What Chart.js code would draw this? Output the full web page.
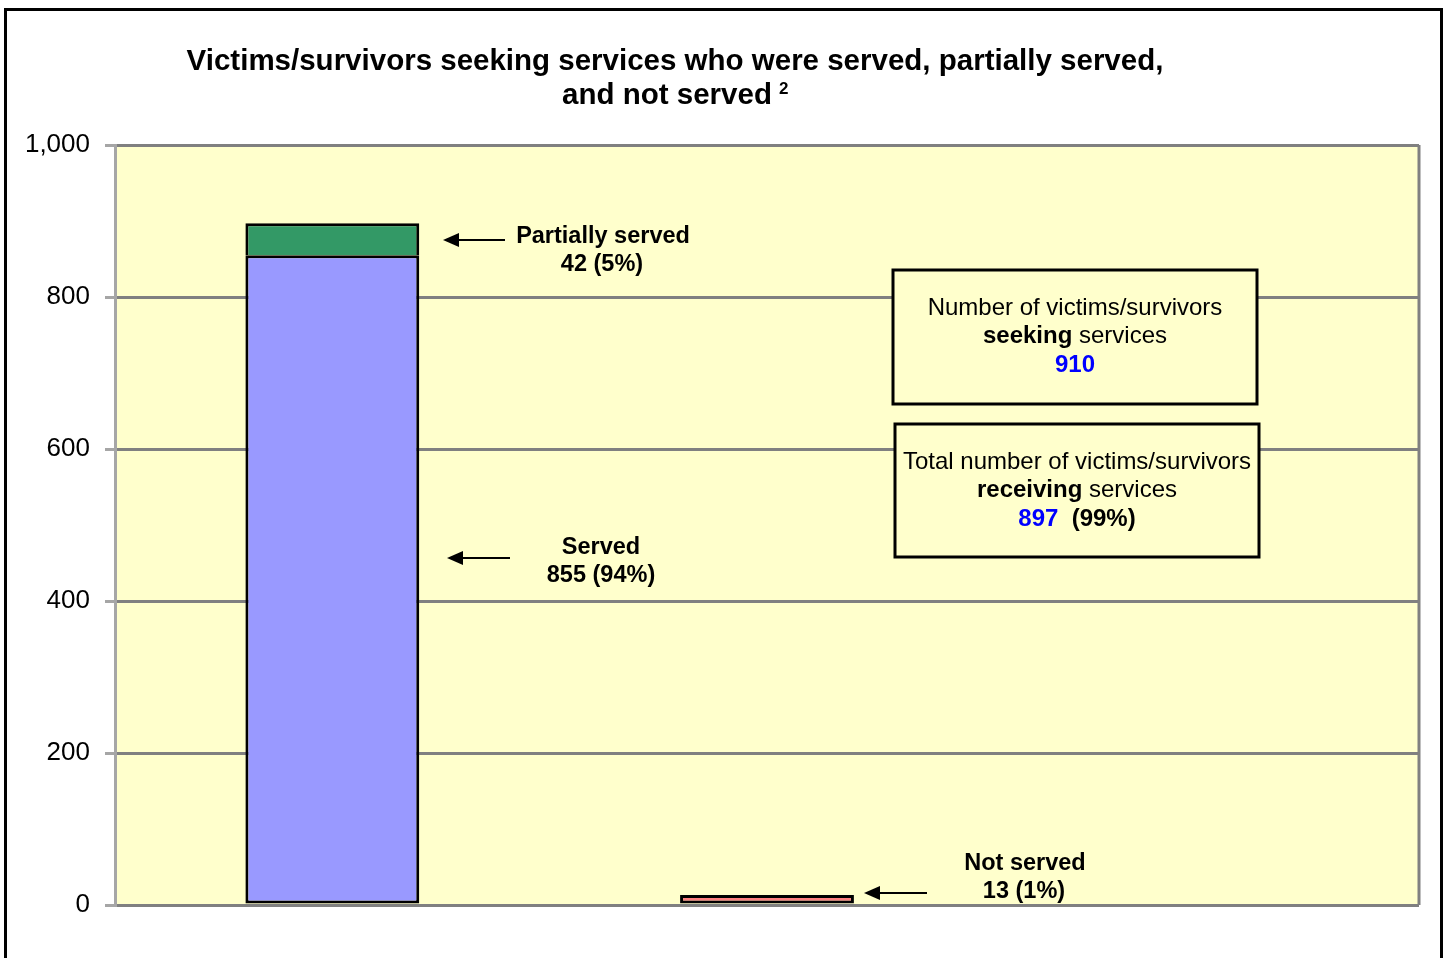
<!DOCTYPE html>
<html lang="en"><head><meta charset="utf-8"><title>Victims/survivors served</title>
<script src="https://cdn.jsdelivr.net/npm/chart.js@4/dist/chart.umd.min.js"></script>
<style>
  html, body { margin: 0; background: #fff; }
  #wrap { width: 1447px; height: 958px; }
</style></head>
<body>
<div id="wrap"><canvas id="c" width="1447" height="958"></canvas></div>
<script>
// Three category slots; only the first two carry a bar, the third is empty
// space the original chart left on the right for the text boxes.
const CATEGORIES = ['Served / partially served', 'Not served', ''];
const SERVED     = [855, null, null];
const PARTIALLY  = [42, null, null];
const NOT_SERVED = [null, 13, null];
const Y_TICKS    = [0, 200, 400, 600, 800, 1000];
const SEEKING    = 910;
const RECEIVING  = SERVED[0] + PARTIALLY[0];

const FONT = '"Liberation Sans", Arial, Helvetica, sans-serif';
const PLOT_BG = '#FFFFCC', FRAME = '#808080', AXIS = '#A6A6A6';
const pct = v => Math.round(v / SEEKING * 100) + '%';

// Draw a line made of runs ({text, bold, color}) centred on cx.
function runs(ctx, parts, cx, cy, size) {
  const font = p => `${p.bold ? 'bold ' : ''}${size}px ${FONT}`;
  let w = 0;
  for (const p of parts) { ctx.font = font(p); w += ctx.measureText(p.text).width; }
  let x = cx - w / 2;
  ctx.textAlign = 'left'; ctx.textBaseline = 'middle';
  for (const p of parts) {
    ctx.font = font(p); ctx.fillStyle = p.color || '#000';
    ctx.fillText(p.text, x, cy);
    x += ctx.measureText(p.text).width;
  }
}

function arrow(ctx, xHead, xTail, y) {
  ctx.save();
  ctx.strokeStyle = '#000'; ctx.fillStyle = '#000'; ctx.lineWidth = 2;
  ctx.beginPath(); ctx.moveTo(xTail, y); ctx.lineTo(xHead + 12, y); ctx.stroke();
  ctx.beginPath(); ctx.moveTo(xHead, y); ctx.lineTo(xHead + 16, y - 7); ctx.lineTo(xHead + 16, y + 7); ctx.closePath(); ctx.fill();
  ctx.restore();
}

function box(ctx, x, y, w, h, lines, size) {
  ctx.save();
  ctx.fillStyle = PLOT_BG; ctx.fillRect(x, y, w, h);
  ctx.strokeStyle = '#000'; ctx.lineWidth = 3; ctx.strokeRect(x, y, w, h);
  lines.forEach((l, i) => runs(ctx, l, x + w / 2, y + 38 + i * 28.5, size));
  ctx.restore();
}

const decor = {
  id: 'decor',
  beforeDraw(chart) {
    const { ctx, chartArea: a } = chart;
    ctx.save();
    ctx.fillStyle = '#fff'; ctx.fillRect(0, 0, chart.width, chart.height);
    ctx.fillStyle = PLOT_BG; ctx.fillRect(a.left, a.top, a.right - a.left, a.bottom - a.top);
    // outer frame: left, top, right (bottom runs off the page)
    ctx.strokeStyle = '#000'; ctx.lineWidth = 3;
    ctx.beginPath(); ctx.moveTo(5.5, 960); ctx.lineTo(5.5, 9.5); ctx.lineTo(1441.5, 9.5); ctx.lineTo(1441.5, 960); ctx.stroke();
    ctx.restore();
  },
  beforeDatasetsDraw(chart) {
    const { ctx, chartArea: a } = chart;
    ctx.save();
    ctx.strokeStyle = FRAME; ctx.lineWidth = 3;
    ctx.beginPath(); ctx.moveTo(a.right, a.top); ctx.lineTo(a.right, a.bottom); ctx.stroke();
    ctx.restore();
  },
  afterDraw(chart) {
    const { ctx } = chart;
    ctx.save();
    // title
    ctx.fillStyle = '#000'; ctx.textAlign = 'center'; ctx.textBaseline = 'alphabetic';
    ctx.font = `bold 29.5px ${FONT}`;
    ctx.fillText('Victims/survivors seeking services who were served, partially served,', 675, 70);
    const l2 = 'and not served';
    const w2 = ctx.measureText(l2).width;
    ctx.fillText(l2, 667, 104);
    ctx.font = `bold 17px ${FONT}`; ctx.textAlign = 'left';
    ctx.fillText('2', 667 + w2 / 2 + 7, 94);

    // callouts
    const ann = 23.5;
    arrow(ctx, 443, 505, 240);
    runs(ctx, [{ text: 'Partially served', bold: true }], 603, 237, ann);
    runs(ctx, [{ text: `${PARTIALLY[0]} (${pct(PARTIALLY[0])})`, bold: true }], 602, 265, ann);
    arrow(ctx, 447, 510, 558);
    runs(ctx, [{ text: 'Served', bold: true }], 601, 548, ann);
    runs(ctx, [{ text: `${SERVED[0]} (${pct(SERVED[0])})`, bold: true }], 601, 576, ann);
    arrow(ctx, 864, 927, 893);
    runs(ctx, [{ text: 'Not served', bold: true }], 1025, 864, ann);
    runs(ctx, [{ text: `${NOT_SERVED[1]} (${pct(NOT_SERVED[1])})`, bold: true }], 1024, 892, ann);

    box(ctx, 893, 270, 364, 134, [
      [{ text: 'Number of victims/survivors' }],
      [{ text: 'seeking', bold: true }, { text: ' services' }],
      [{ text: String(SEEKING), bold: true, color: '#0000FF' }],
    ], 24);
    box(ctx, 895, 424, 364, 133, [
      [{ text: 'Total number of victims/survivors' }],
      [{ text: 'receiving', bold: true }, { text: ' services' }],
      [{ text: String(RECEIVING), bold: true, color: '#0000FF' }, { text: '  (' + pct(RECEIVING) + ')', bold: true }],
    ], 24);
    ctx.restore();
  },
};

const barStyle = { borderColor: '#000', borderWidth: 3, borderSkipped: false, barPercentage: 0.4, categoryPercentage: 1 };

new Chart(document.getElementById('c'), {
  type: 'bar',
  data: {
    labels: CATEGORIES,
    datasets: [
      { label: 'Served', data: SERVED, backgroundColor: '#9999FF', ...barStyle },
      // the served segment's top edge already draws the seam between the two
      { label: 'Partially served', data: PARTIALLY, backgroundColor: '#339966', ...barStyle, borderSkipped: 'bottom' },
      { label: 'Not served', data: NOT_SERVED, backgroundColor: '#FF8080', ...barStyle },
    ],
  },
  options: {
    responsive: false, animation: false, devicePixelRatio: 1,
    layout: { padding: { left: 0, top: 145, right: 28, bottom: 53 } },
    plugins: { legend: { display: false }, tooltip: { enabled: false }, title: { display: false } },
    scales: {
      x: { stacked: true, display: false },
      y: {
        stacked: true, min: 0, max: 1000,
        afterFit: s => { s.width = 115; },
        afterBuildTicks: s => { s.ticks = Y_TICKS.map(v => ({ value: v })); },
        border: { color: AXIS, width: 3 },
        grid: { color: FRAME, lineWidth: 3, tickColor: AXIS, tickLength: 10, drawTicks: true },
        ticks: {
          color: '#000', padding: 15, font: { family: FONT, size: 26 },
          callback: v => Number(v).toLocaleString('en-US'),
        },
      },
    },
  },
  plugins: [decor],
});
</script>
</body></html>
